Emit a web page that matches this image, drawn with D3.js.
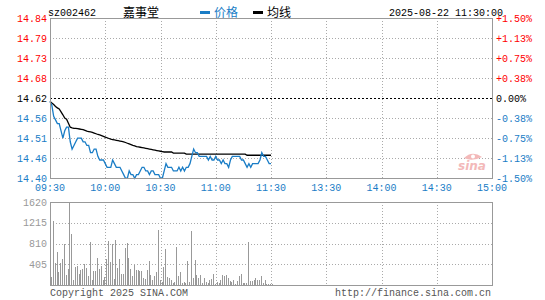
<!DOCTYPE html>
<html>
<head>
<meta charset="utf-8">
<script src="https://cdn.jsdelivr.net/npm/d3@7"></script>
<style>
body { margin: 0; background: #fff; }
text { font-family: "Liberation Mono", monospace; font-size: 10px; }
</style>
</head>
<body>
<svg id="chart" width="545" height="300"></svg>
<script>
// labels
const stockCode = "sz002462";
const stockName = "嘉事堂";
const stamp = "2025-08-22 11:30:00";
const prevClose = 14.62;
const timeLabels = ["09:30", "10:00", "10:30", "11:00", "11:30", "13:30", "14:00", "14:30", "15:00"];
const priceLabels = ["14.84", "14.79", "14.73", "14.68", "14.62", "14.56", "14.51", "14.46", "14.40"];
const pctLabels = ["+1.50%", "+1.13%", "+0.75%", "+0.38%", "0.00%", "-0.38%", "-0.75%", "-1.13%", "-1.50%"];
const volLabels = [1620, 1215, 810, 405];

// one value per minute 09:30 .. 11:30
const prices = [
  14.61, 14.60, 14.57, 14.56, 14.55, 14.55, 14.53, 14.51, 14.53, 14.54, 14.54,
  14.50, 14.48, 14.49, 14.50, 14.51, 14.51, 14.51, 14.50, 14.50, 14.49,
  14.49, 14.47, 14.47, 14.48, 14.48, 14.46, 14.45, 14.45, 14.45, 14.44,
  14.43, 14.43, 14.43, 14.45, 14.44, 14.43, 14.43, 14.43, 14.42, 14.41,
  14.40, 14.40, 14.42, 14.41, 14.41, 14.40, 14.41, 14.41, 14.42, 14.43,
  14.43, 14.42, 14.42, 14.41, 14.42, 14.42, 14.41, 14.41, 14.41, 14.40,
  14.40, 14.42, 14.44, 14.43, 14.43, 14.43, 14.42, 14.42, 14.42, 14.43,
  14.42, 14.43, 14.42, 14.43, 14.43, 14.44, 14.46, 14.48, 14.47, 14.47,
  14.46, 14.46, 14.46, 14.46, 14.46, 14.45, 14.46, 14.45, 14.45, 14.46,
  14.45, 14.45, 14.44, 14.45, 14.44, 14.44, 14.43, 14.45, 14.46, 14.46,
  14.46, 14.46, 14.46, 14.45, 14.45, 14.44, 14.43, 14.44, 14.43, 14.44,
  14.44, 14.44, 14.44, 14.45, 14.47, 14.46, 14.46, 14.45, 14.44, 14.44
];
const avgPrices = [
  14.611, 14.606, 14.602, 14.597, 14.593, 14.590, 14.582, 14.574, 14.565, 14.562, 14.551,
  14.540, 14.538, 14.537, 14.537, 14.536, 14.535, 14.534, 14.533, 14.531, 14.529,
  14.528, 14.527, 14.526, 14.524, 14.522, 14.520, 14.519, 14.517, 14.515, 14.513,
  14.511, 14.509, 14.507, 14.506, 14.505, 14.504, 14.503, 14.502, 14.501, 14.500,
  14.498, 14.496, 14.494, 14.492, 14.490, 14.489, 14.487, 14.486, 14.485, 14.484,
  14.483, 14.482, 14.481, 14.480, 14.479, 14.478, 14.477, 14.476, 14.475, 14.474,
  14.473, 14.472, 14.472, 14.472, 14.472, 14.472, 14.469, 14.469, 14.469, 14.469,
  14.469, 14.469, 14.469, 14.466, 14.466, 14.466, 14.466, 14.466, 14.466, 14.466,
  14.466, 14.466, 14.466, 14.466, 14.466, 14.466, 14.466, 14.466, 14.466, 14.466,
  14.466, 14.466, 14.466, 14.466, 14.466, 14.466, 14.466, 14.466, 14.466, 14.466,
  14.466, 14.466, 14.466, 14.466, 14.466, 14.466, 14.463, 14.463, 14.463, 14.463,
  14.463, 14.463, 14.463, 14.463, 14.463, 14.463, 14.463, 14.463, 14.463, 14.463
];
const volumes = [
  155, 1245, 439, 645, 245, 439, 510, 800, 200, 316,
  1620, 993, 103, 348, 374, 219, 297, 316, 413, 329,
  180, 832, 90, 264, 277, 522, 310, 374, 103, 155,
  503, 858, 458, 800, 116, 877, 335, 510, 219, 219,
  716, 813, 522, 316, 168, 387, 284, 297, 264, 271,
  129, 116, 297, 471, 200, 90, 168, 245, 1071, 90,
  52, 342, 703, 155, 135, 103, 39, 60, 742, 181,
  245, 39, 65, 39, 471, 65, 1051, 142, 490, 200,
  135, 200, 39, 129, 65, 39, 90, 116, 219, 26,
  60, 39, 90, 200, 181, 194, 142, 77, 52, 90,
  26, 71, 181, 219, 39, 39, 40, 832, 77, 77,
  90, 135, 90, 90, 181, 39, 103, 26, 26, 26, 26
];

const svg = d3.select("#chart");
const left = 50, right = 492;
const pTop = 18, pBottom = 178;
const vTop = 202, vBottom = 285;
const blue = "#1a7dc6", red = "#ff0000", gray = "#999";

const x = d3.scaleLinear().domain([0, 240]).range([left, right]);
const y = d3.scaleLinear()
  .domain([prevClose * 0.985, prevClose * 1.015])
  .range([pBottom, pTop]);
const yv = d3.scaleLinear().domain([0, 1620]).range([vBottom, vTop]);

const dotted = (sel) => sel.attr("stroke", "#aaa").attr("stroke-dasharray", "1,2").attr("shape-rendering", "crispEdges");

// price grid
const rowStep = (pBottom - pTop) / 8;
for (let i = 1; i < 8; i++) {
  if (i === 4) continue;
  svg.append("line").attr("x1", left).attr("x2", right)
    .attr("y1", pTop + i * rowStep + 0.5).attr("y2", pTop + i * rowStep + 0.5).call(dotted);
}
for (let i = 1; i < 8; i++) {
  const gx = Math.round(x(i * 30)) + 0.5;
  svg.append("line").attr("x1", gx).attr("x2", gx).attr("y1", pTop).attr("y2", pBottom).call(dotted);
  svg.append("line").attr("x1", gx).attr("x2", gx).attr("y1", vTop).attr("y2", vBottom).call(dotted);
}
// prev close line
svg.append("line").attr("x1", left).attr("x2", right)
  .attr("y1", Math.round(y(prevClose)) + 0.5).attr("y2", Math.round(y(prevClose)) + 0.5)
  .attr("stroke", "#000").attr("stroke-dasharray", "2,2").attr("shape-rendering", "crispEdges");

// volume grid
const vStep = (vBottom - vTop) / 4;
for (let i = 1; i < 4; i++) {
  svg.append("line").attr("x1", left).attr("x2", right)
    .attr("y1", Math.round(vTop + i * vStep) + 0.5).attr("y2", Math.round(vTop + i * vStep) + 0.5).call(dotted);
}

// sina watermark
const wm = svg.append("g").attr("transform", "translate(456,152)");
wm.append("path").attr("d", "M8,6 Q16,-2 26,5 Q16,10 8,6 Z").attr("fill", "#f3b9b9");
wm.append("circle").attr("cx", 17).attr("cy", 4.5).attr("r", 2).attr("fill", "#fff");
wm.append("text").attr("x", 2).attr("y", 18).attr("fill", "#f3b9b9")
  .style("font-family", "Verdana, 'DejaVu Sans', sans-serif").style("font-style", "italic")
  .style("font-weight", "bold").style("font-size", "12px").text("sina");

// volume bars
svg.selectAll(".vol").data(volumes).enter().append("rect")
  .attr("x", (d, i) => Math.round(x(i)) + 0.5)
  .attr("width", 1)
  .attr("y", d => yv(d))
  .attr("height", d => vBottom - yv(d))
  .attr("fill", gray)
  .attr("shape-rendering", "crispEdges");

// lines
const line = d3.line().x((d, i) => x(i)).y(d => y(d));
svg.append("path").datum(avgPrices).attr("d", line)
  .attr("fill", "none").attr("stroke", "#000").attr("stroke-width", 1.3);
svg.append("path").datum(prices).attr("d", line)
  .attr("fill", "none").attr("stroke", blue).attr("stroke-width", 1.3);

// frames
svg.append("rect").attr("x", left + 0.5).attr("y", pTop + 0.5)
  .attr("width", right - left).attr("height", pBottom - pTop)
  .attr("fill", "none").attr("stroke", gray).attr("shape-rendering", "crispEdges");
svg.append("rect").attr("x", left + 0.5).attr("y", vTop + 0.5)
  .attr("width", right - left).attr("height", vBottom - vTop)
  .attr("fill", "none").attr("stroke", gray).attr("shape-rendering", "crispEdges");

// axis labels
const colorFor = (i) => i < 4 ? red : (i === 4 ? "#000" : blue);
svg.selectAll(".pl").data(priceLabels).enter().append("text")
  .attr("x", 47).attr("y", (d, i) => pTop + i * rowStep + 3.5)
  .attr("text-anchor", "end").attr("fill", (d, i) => colorFor(i)).text(d => d);
svg.selectAll(".pc").data(pctLabels).enter().append("text")
  .attr("x", 496).attr("y", (d, i) => pTop + i * rowStep + 3.5)
  .attr("fill", (d, i) => colorFor(i)).text(d => d);
svg.selectAll(".tl").data(timeLabels).enter().append("text")
  .attr("x", (d, i) => x(i * 30)).attr("y", 191)
  .attr("text-anchor", "middle").attr("fill", blue).text(d => d);
svg.selectAll(".vl").data(volLabels).enter().append("text")
  .attr("x", 47).attr("y", (d, i) => vTop + i * vStep + 3.5)
  .attr("text-anchor", "end").attr("fill", gray).text(d => d);

// header
svg.append("text").attr("x", 48).attr("y", 16).attr("fill", "#000").text(stockCode);
svg.append("text").attr("x", 123).attr("y", 17).attr("fill", "#000")
  .style("font-family", "'Noto Sans CJK SC', sans-serif").style("font-size", "12px").text(stockName);
svg.append("rect").attr("x", 200).attr("y", 11).attr("width", 10).attr("height", 3).attr("fill", blue);
svg.append("text").attr("x", 214).attr("y", 17).attr("fill", blue)
  .style("font-family", "'Noto Sans CJK SC', sans-serif").style("font-size", "12px").text("价格");
svg.append("rect").attr("x", 253).attr("y", 11).attr("width", 10).attr("height", 3).attr("fill", "#000");
svg.append("text").attr("x", 267).attr("y", 17).attr("fill", "#000")
  .style("font-family", "'Noto Sans CJK SC', sans-serif").style("font-size", "12px").text("均线");
svg.append("text").attr("x", 503).attr("y", 16).attr("text-anchor", "end").attr("fill", "#000").text(stamp);

// footer
svg.append("text").attr("x", 50).attr("y", 296).attr("fill", "#555").text("Copyright 2025 SINA.COM");
svg.append("text").attr("x", 491).attr("y", 296).attr("text-anchor", "end").attr("fill", "#555").text("http://finance.sina.com.cn");
</script>
</body>
</html>
